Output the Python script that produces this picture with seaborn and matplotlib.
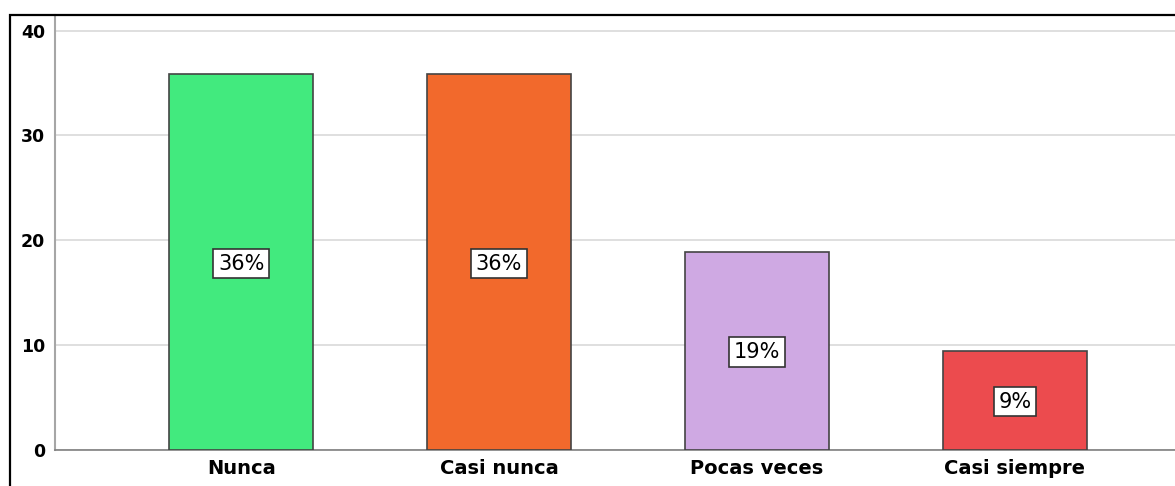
import matplotlib

matplotlib.use("Agg")
import matplotlib.pyplot as plt
import pandas as pd
import seaborn as sns
from matplotlib.patches import Rectangle

# data (percent of respondents)
categories = ["Nunca", "Casi nunca", "Pocas veces", "Casi siempre"]
values = [35.8, 35.8, 18.9, 9.4]
labels = ["36%", "36%", "19%", "9%"]
colors = ["#42EA7E", "#F2692C", "#CFA9E3", "#EC4B4E"]
y_ticks = [0, 10, 20, 30, 40]

df = pd.DataFrame({"category": categories, "value": values})

sns.set_style("white")
plt.rcParams["font.family"] = ["DejaVu Sans"]

fig = plt.figure(figsize=(11.75, 4.86), dpi=100)
ax = fig.add_axes([55 / 1175, 36.5 / 486, 1 - 55 / 1175 + 0.01, (449.5 - 15) / 486])

sns.barplot(
    data=df,
    x="category",
    y="value",
    hue="category",
    palette=colors,
    saturation=1,
    width=0.56,
    edgecolor="#444444",
    linewidth=1.2,
    legend=False,
    ax=ax,
    zorder=3,
)

# percentage labels in white boxes at mid height
for i, (v, lab) in enumerate(zip(values, labels)):
    ax.text(
        i,
        v / 2 - 0.15,
        lab,
        ha="center",
        va="center",
        fontsize=15,
        color="black",
        zorder=5,
        bbox=dict(boxstyle="square,pad=0.22", facecolor="white", edgecolor="#333333", linewidth=1.2),
    )

ax.set_xlim(-0.722, 3.627 + 0.04)
ax.set_ylim(0, 41.48)
ax.set_yticks(y_ticks)
ax.set_yticklabels([str(t) for t in y_ticks])
ax.yaxis.grid(True, color="#d9d9d9", linewidth=1.2, zorder=0)
ax.set_axisbelow(True)
ax.tick_params(axis="y", length=0, labelsize=12.5, pad=7, labelcolor="black")
ax.tick_params(axis="x", length=0, labelsize=14, pad=7, labelcolor="black")
for t in ax.get_xticklabels() + ax.get_yticklabels():
    t.set_fontweight("bold")
ax.set(xlabel="", ylabel="")

sns.despine(ax=ax, top=True, right=True, left=False, bottom=False)
ax.spines["left"].set_color("#a6a6a6")
ax.spines["left"].set_linewidth(1.5)
ax.spines["bottom"].set_color("#808080")
ax.spines["bottom"].set_linewidth(1.2)

# outer black frame of the exported chart
fig.patches.append(
    Rectangle(
        (10 / 1175, -0.1),
        1.2,
        1.1 - 14.5 / 486,
        transform=fig.transFigure,
        fill=False,
        edgecolor="black",
        linewidth=1.6,
        zorder=10,
    )
)

plt.savefig("out.png", dpi=100)
